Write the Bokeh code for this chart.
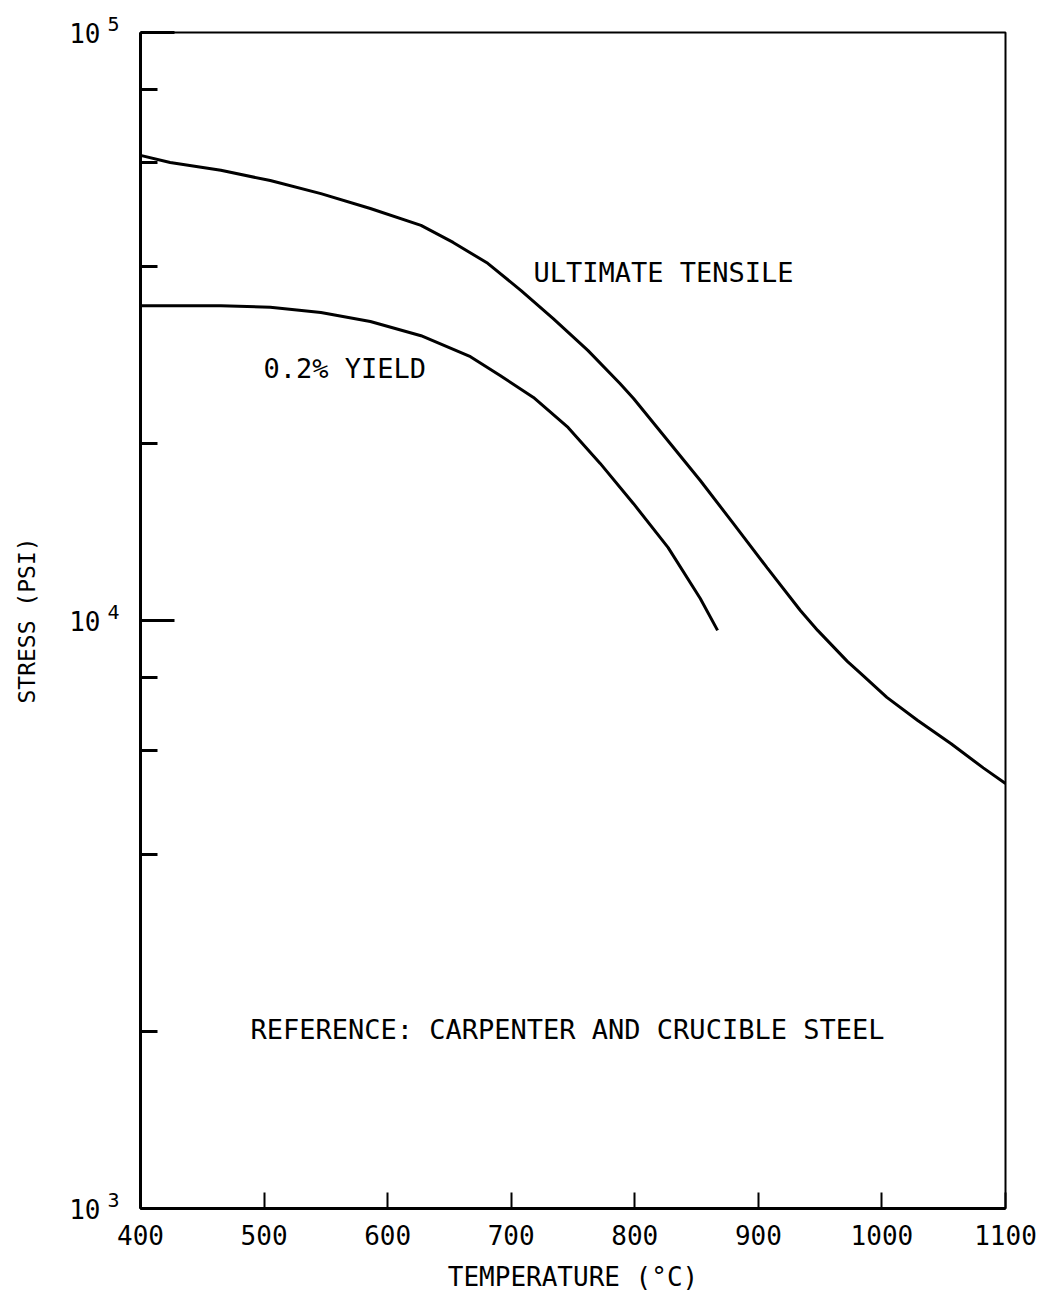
from bokeh.plotting import figure
from bokeh.models import FixedTicker, CustomJSTickFormatter, Label
from bokeh.core.properties import value
from bokeh.embed import file_html
from bokeh.resources import INLINE

# --- data ---
uts_temp = [400, 424, 465, 505, 546, 586, 627, 653, 681, 708, 734, 762, 788, 799, 827, 853,
            880, 907, 934, 948, 972, 983, 1004, 1029, 1056, 1082, 1100]
uts_psi = [61800, 60100, 58300, 56000, 53200, 50200, 47000, 43950, 40500, 36400, 32600, 28800,
           25300, 23850, 20200, 17300, 14600, 12300, 10400, 9620, 8520, 8120, 7400, 6760, 6170,
           5615, 5280]

yield_temp = [400, 465, 505, 546, 586, 627, 667, 691, 718, 746, 772, 799, 827, 853, 867]
yield_psi = [34300, 34300, 34100, 33400, 32250, 30500, 28100, 26100, 23950, 21300, 18500,
             15800, 13300, 10900, 9620]

x_ticks = [400, 500, 600, 700, 800, 900, 1000, 1100]
y_major = [1e3, 1e4, 1e5]
y_minor = [2e3, 4e3, 6e3, 8e3, 2e4, 4e4, 6e4, 8e4]
y_exponents = ["3", "4", "5"]

FONT = "DejaVu Sans Mono"

p = figure(width=1044, height=1306, output_backend="svg", toolbar_location=None,
           y_axis_type="log", x_range=(400, 1100), y_range=(1e3, 1e5),
           min_border_left=140, min_border_right=39, min_border_top=32, min_border_bottom=98)

p.grid.visible = False
p.outline_line_color = "black"
p.outline_line_width = 2
p.background_fill_color = "white"
p.border_fill_color = "white"

# x axis
xa = p.xaxis[0]
xa.ticker = FixedTicker(ticks=x_ticks)
xa.major_tick_in = 16
xa.major_tick_out = 0
xa.minor_tick_line_color = None
xa.major_tick_line_width = 2
xa.axis_line_width = 3
xa.major_label_text_font = FONT
xa.major_label_text_font_size = "26px"
xa.major_label_text_color = "black"
xa.major_label_standoff = 16
xa.axis_label = "TEMPERATURE (°C)"
xa.axis_label_text_font = FONT
xa.axis_label_text_font_size = "26px"
xa.axis_label_text_font_style = "normal"
xa.axis_label_text_color = "black"
xa.axis_label_standoff = 14

# y axis
ya = p.yaxis[0]
ya.ticker = FixedTicker(ticks=y_major, minor_ticks=y_minor)
ya.formatter = CustomJSTickFormatter(code="return '10';")
ya.major_tick_in = 34
ya.major_tick_out = 0
ya.minor_tick_in = 17
ya.minor_tick_out = 0
ya.major_tick_line_width = 3
ya.minor_tick_line_width = 3
ya.axis_line_width = 3
ya.major_label_text_font = FONT
ya.major_label_text_font_size = "26px"
ya.major_label_text_color = "black"
ya.major_label_standoff = 40
ya.axis_label = "STRESS (PSI)"
ya.axis_label_text_font = FONT
ya.axis_label_text_font_size = "23px"
ya.axis_label_text_font_style = "normal"
ya.axis_label_text_color = "black"
ya.axis_label_standoff = 26

# exponents of the decade labels (placed in the right side panel so they are not clipped
# and do not widen the left margin; they are positioned through the data scales)
for v, e in zip(y_major, y_exponents):
    p.add_layout(Label(x=400, y=v, x_offset=-33, y_offset=9, text=e,
                       text_font=FONT, text_font_size="20px", text_color="black",
                       text_baseline="middle", text_align="left"), "right")

p.line(uts_temp, uts_psi, line_color="black", line_width=3)
p.line(yield_temp, yield_psi, line_color="black", line_width=3)

p.text(x=[718, 499.5, 489], y=[39000, 26800, 2015],
       text=["ULTIMATE TENSILE", "0.2% YIELD", "REFERENCE: CARPENTER AND CRUCIBLE STEEL"],
       text_font=value(FONT), text_font_size=value("27px"),
       text_baseline="middle", text_align="left", text_color="black")

open("out.html", "w").write(file_html(p, INLINE))
